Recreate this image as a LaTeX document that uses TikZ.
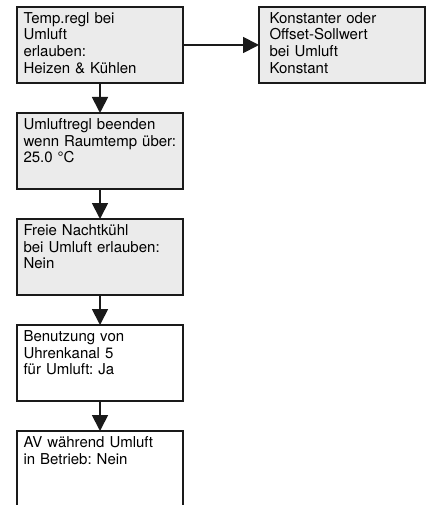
\documentclass[tikz,border=0pt]{standalone}
\usepackage{fontspec}
\setmainfont{TeX Gyre Heros}
\frenchspacing
\usepackage{tikz}
\usetikzlibrary{positioning,arrows.meta}
\definecolor{ink}{HTML}{1A1A1A}
\definecolor{paleGrey}{HTML}{EBEBEB}
\tikzset{
  setting/.style={rectangle, draw=ink, line width=1.8pt, outer sep=0pt,
                  minimum width=166pt, minimum height=76pt, inner xsep=6.5pt, inner ysep=6pt,
                  text width=153pt, text height=10.3pt, text depth=53.7pt, align=left,
                  font=\fontsize{15pt}{16.7pt}\selectfont},
  shaded/.style={setting, fill=paleGrey},
  flow/.style={-{Triangle[length=16pt, width=16pt]}, line width=1.8pt, draw=ink}
}
\begin{document}
\begin{tikzpicture}[node distance=30pt]
\clip (0,0) rectangle (433pt,-505pt);
\node[shaded, anchor=north west] (tempregl) at (17pt,-7pt)
  {Temp.regl bei\\Umluft\\erlauben:\\Heizen \& Kühlen};
\node[shaded, right=76pt of tempregl, text width=145pt, inner xsep=10.5pt] (sollwert)
  {Konstanter oder\\Offset-Sollwert\\bei Umluft\\Konstant};
\node[shaded, below=of tempregl] (beenden)
  {Umluftregl beenden\\wenn Raumtemp über:\\25.0 °C};
\node[shaded, below=of beenden] (nachtkuehl)
  {Freie Nachtkühl\\bei Umluft erlauben:\\Nein};
\node[setting, below=of nachtkuehl] (uhrkanal)
  {Benutzung von\\Uhrenkanal 5\\für Umluft: Ja};
\node[setting, below=of uhrkanal] (avbetrieb)
  {AV während Umluft\\in Betrieb: Nein};
\draw[flow] (tempregl) -- (sollwert);
\draw[flow] (tempregl) -- (beenden);
\draw[flow] (beenden) -- (nachtkuehl);
\draw[flow] (nachtkuehl) -- (uhrkanal);
\draw[flow] (uhrkanal) -- (avbetrieb);
\end{tikzpicture}
\end{document}
